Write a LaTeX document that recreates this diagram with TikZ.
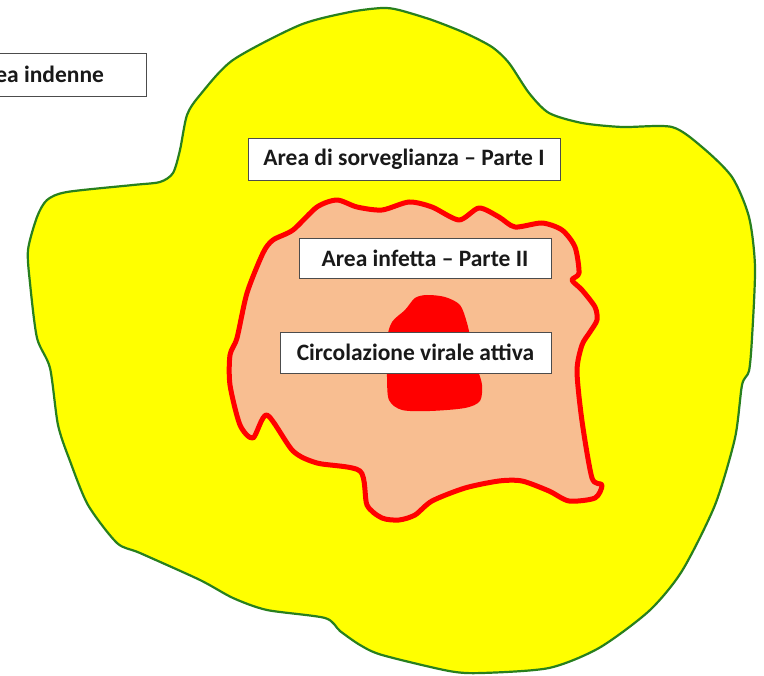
\documentclass[tikz,border=0pt]{standalone}
\usepackage{fontspec}
\setmainfont{Carlito}
\definecolor{zoneyellow}{RGB}{255,255,0}
\definecolor{zonegreen}{RGB}{40,128,30}
\definecolor{zonered}{RGB}{255,0,0}
\definecolor{zonesalmon}{RGB}{248,190,145}
\tikzset{
  lbl/.style={draw=black!70, fill=white, line width=0.8pt, inner sep=0pt,
    font=\fontsize{23.5}{26}\selectfont\bfseries, text=black!90},
}
\begin{document}
\begin{tikzpicture}[x=1pt,y=-1pt]
\useasboundingbox (0,0) rectangle (764,676);
\clip (0,0) rectangle (764,676);
\fill[white] (0,0) rectangle (764,676);
% surveillance area
\draw[zonegreen, line width=2.2pt, fill=zoneyellow, line join=round]
  plot[smooth cycle, tension=0.45] coordinates {
  (382,8) (399,10) (432,20) (465,33) (492,47) (509,63) (529,93) (549,113)
  (582,123) (622,127) (672,127) (702,147) (732,177) (749,217) (755,267)
  (752,338) (749,371) (742,385) (735,438) (715,505) (682,571) (649,611)
  (599,648) (549,668) (482,673) (449,671) (382,655) (360,645) (340,631)
  (325,618) (267,610) (233,598) (200,580) (140,553) (117,543) (88,505)
  (70,461) (58,425) (50,368) (37,338) (30,283) (28,250) (37,217) (47,200)
  (67,192) (133,185) (160,182) (173,173) (180,150) (187,115) (200,95)
  (233,60) (300,25) (350,12)};
% infected area
\draw[zonered, line width=5pt, fill=zonesalmon, line join=round]
  plot[smooth cycle, tension=0.45] coordinates {
  (337,200) (357,207) (382,210) (409,202) (432,207) (459,220) (479,208)
  (499,217) (515,227) (542,223) (562,230) (575,247) (579,273) (572,280)
  (582,290) (595,307) (597,320) (590,332) (582,345) (577,371) (582,421)
  (592,478) (602,485) (595,498) (569,501) (549,491) (522,481) (499,481)
  (465,488) (432,501) (415,515) (399,520) (382,518) (367,505) (360,471)
  (317,463) (293,451) (267,415) (253,438) (240,425) (230,385) (230,355)
  (237,338) (247,293) (263,253) (273,240) (293,230) (317,207)};
% active viral circulation
\fill[zonered]
  plot[smooth cycle, tension=0.5] coordinates {
  (427,295) (445,297) (460,305) (467,323) (472,345) (478,370) (482,385)
  (480,401) (465,408) (430,411) (402,410) (389,400) (387,377) (387,340)
  (392,322) (405,310) (415,298)};
% labels
\node[lbl, minimum width=215pt, minimum height=43pt] (indenne) at (38.5,74.5) {Area indenne};
\node[lbl, minimum width=312pt, minimum height=42pt] (sorv) at (404,159) {Area di sorveglianza -- Parte I};
\node[lbl, minimum width=252pt, minimum height=40pt] (infetta) at (425,258) {Area infetta -- Parte II};
\node[lbl, minimum width=271pt, minimum height=41pt] (circ) at (415.5,352.5) {Circolazione virale attiva};
\end{tikzpicture}
\end{document}
